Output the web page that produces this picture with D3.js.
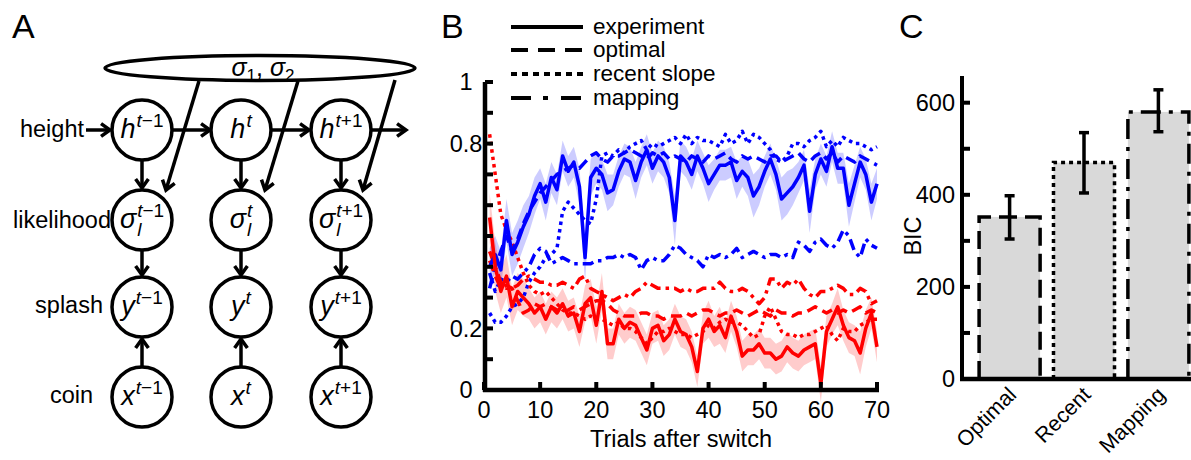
<!DOCTYPE html>
<html><head><meta charset="utf-8">
<script src="https://cdn.jsdelivr.net/npm/d3@7"></script>
<style>body{margin:0;background:#fff} svg{display:block} text{font-family:"Liberation Sans",Arial,sans-serif;fill:#000}</style>
</head><body><svg id="c" width="1191" height="460"></svg>
<script>
// ---------------- data ----------------
const trials = [1,2,3,4,5,6,7,8,9,10,11,12,13,14,15,16,17,18,19,20,21,22,23,24,25,26,27,28,29,30,31,32,33,34,35,36,37,38,39,40,41,42,43,44,45,46,47,48,49,50,51,52,53,54,55,56,57,58,59,60,61,62,63,64,65,66,67,68,69,70];
const expBlue = [0.40,0.44,0.39,0.55,0.44,0.48,0.53,0.57,0.63,0.67,
 0.61,0.69,0.65,0.76,0.71,0.74,0.66,0.43,0.69,0.72,
 0.70,0.64,0.65,0.71,0.75,0.74,0.68,0.74,0.78,0.72,
 0.76,0.74,0.69,0.55,0.76,0.74,0.70,0.76,0.72,0.67,
 0.70,0.73,0.73,0.74,0.68,0.71,0.69,0.63,0.66,0.71,
 0.75,0.70,0.62,0.64,0.66,0.69,0.73,0.58,0.70,0.75,
 0.71,0.79,0.72,0.72,0.60,0.67,0.74,0.70,0.61,0.67];
const errBlue = [0.06,0.06,0.06,0.07,0.07,0.07,0.07,0.06,0.06,0.05,
 0.06,0.05,0.05,0.05,0.05,0.05,0.06,0.08,0.06,0.05,
 0.05,0.06,0.05,0.05,0.05,0.05,0.06,0.05,0.05,0.05,
 0.05,0.05,0.05,0.08,0.05,0.05,0.05,0.05,0.05,0.06,
 0.05,0.05,0.05,0.05,0.06,0.05,0.06,0.07,0.06,0.05,
 0.05,0.05,0.07,0.07,0.06,0.05,0.05,0.07,0.05,0.05,
 0.05,0.05,0.05,0.05,0.07,0.06,0.05,0.05,0.06,0.05];
const expRed = [0.56,0.40,0.32,0.37,0.27,0.32,0.30,0.28,0.25,0.27,
 0.23,0.27,0.25,0.28,0.24,0.25,0.19,0.28,0.30,0.21,
 0.32,0.15,0.15,0.23,0.20,0.22,0.21,0.17,0.13,0.20,
 0.21,0.16,0.18,0.23,0.19,0.18,0.14,0.06,0.20,0.23,
 0.19,0.21,0.17,0.24,0.19,0.11,0.13,0.13,0.15,0.12,
 0.12,0.10,0.11,0.14,0.12,0.11,0.13,0.14,0.15,0.02,
 0.19,0.23,0.27,0.21,0.17,0.16,0.12,0.20,0.25,0.14];
const errRed = [0.08,0.08,0.07,0.07,0.06,0.06,0.06,0.05,0.05,0.05,
 0.05,0.05,0.05,0.05,0.05,0.05,0.05,0.06,0.06,0.06,
 0.06,0.05,0.05,0.05,0.05,0.05,0.05,0.05,0.05,0.05,
 0.05,0.05,0.05,0.05,0.05,0.05,0.05,0.05,0.05,0.06,
 0.05,0.06,0.05,0.05,0.05,0.05,0.05,0.05,0.05,0.05,
 0.05,0.05,0.05,0.05,0.05,0.05,0.05,0.05,0.05,0.06,
 0.05,0.05,0.06,0.05,0.05,0.05,0.07,0.06,0.05,0.05];
const optBlue = [0.33,0.40,0.45,0.50,0.45,0.49,0.54,0.58,0.61,0.64,
 0.66,0.68,0.70,0.71,0.72,0.73,0.72,0.74,0.76,0.77,
 0.75,0.74,0.76,0.76,0.77,0.78,0.77,0.76,0.75,0.77,
 0.76,0.77,0.75,0.76,0.75,0.74,0.76,0.75,0.74,0.76,
 0.75,0.76,0.77,0.75,0.74,0.76,0.75,0.76,0.75,0.74,
 0.76,0.76,0.74,0.75,0.76,0.77,0.75,0.74,0.76,0.77,
 0.75,0.77,0.74,0.76,0.75,0.74,0.76,0.75,0.74,0.73];
const recBlue = [0.25,0.22,0.22,0.24,0.27,0.28,0.30,0.35,0.38,0.40,
 0.43,0.44,0.46,0.58,0.61,0.59,0.57,0.55,0.54,0.62,
 0.76,0.77,0.76,0.78,0.77,0.79,0.80,0.81,0.78,0.80,
 0.79,0.80,0.81,0.82,0.80,0.83,0.80,0.82,0.81,0.81,
 0.80,0.79,0.83,0.80,0.81,0.84,0.80,0.83,0.82,0.80,
 0.78,0.75,0.74,0.76,0.80,0.80,0.79,0.81,0.82,0.84,
 0.79,0.81,0.79,0.82,0.81,0.80,0.80,0.79,0.78,0.79];
const mapBlue = [0.38,0.32,0.36,0.35,0.37,0.36,0.38,0.40,0.44,0.46,
 0.45,0.41,0.42,0.43,0.42,0.41,0.41,0.41,0.41,0.42,
 0.42,0.43,0.43,0.44,0.43,0.44,0.43,0.39,0.42,0.43,
 0.42,0.42,0.44,0.47,0.46,0.44,0.43,0.42,0.40,0.44,
 0.43,0.44,0.43,0.44,0.46,0.43,0.44,0.45,0.44,0.43,
 0.44,0.44,0.43,0.44,0.43,0.48,0.47,0.45,0.48,0.49,
 0.47,0.46,0.48,0.52,0.50,0.45,0.43,0.49,0.47,0.46];
const optRed = [0.42,0.37,0.33,0.34,0.33,0.29,0.25,0.26,0.28,0.27,
 0.28,0.27,0.26,0.25,0.26,0.27,0.26,0.27,0.28,0.29,
 0.29,0.28,0.26,0.25,0.24,0.24,0.24,0.25,0.25,0.24,
 0.24,0.23,0.24,0.24,0.24,0.25,0.24,0.25,0.26,0.26,
 0.25,0.24,0.25,0.25,0.26,0.25,0.24,0.25,0.26,0.25,
 0.24,0.26,0.25,0.25,0.24,0.25,0.25,0.26,0.27,0.26,
 0.25,0.26,0.25,0.26,0.25,0.26,0.27,0.25,0.26,0.25];
const recRed = [0.83,0.70,0.57,0.52,0.48,0.43,0.38,0.34,0.32,0.31,
 0.32,0.30,0.28,0.26,0.25,0.25,0.24,0.23,0.24,0.23,
 0.23,0.22,0.21,0.22,0.20,0.20,0.19,0.17,0.15,0.17,
 0.19,0.19,0.20,0.19,0.18,0.18,0.17,0.18,0.19,0.21,
 0.20,0.22,0.23,0.22,0.22,0.21,0.19,0.17,0.18,0.24,
 0.27,0.23,0.19,0.18,0.18,0.17,0.18,0.18,0.19,0.20,
 0.21,0.18,0.16,0.20,0.19,0.19,0.21,0.22,0.23,0.23];
const mapRed = [0.45,0.40,0.35,0.33,0.33,0.34,0.36,0.37,0.36,0.35,
 0.35,0.34,0.34,0.35,0.34,0.33,0.36,0.37,0.33,0.32,
 0.31,0.30,0.29,0.30,0.31,0.30,0.32,0.33,0.35,0.34,
 0.33,0.33,0.33,0.33,0.32,0.33,0.32,0.32,0.33,0.33,
 0.33,0.35,0.33,0.32,0.32,0.33,0.32,0.30,0.28,0.30,
 0.36,0.36,0.33,0.35,0.34,0.36,0.33,0.31,0.30,0.32,
 0.32,0.33,0.34,0.33,0.31,0.31,0.33,0.32,0.28,0.29];
const legendLabels = ["experiment","optimal","recent slope","mapping"];
const yTicksB = [0,0.1,0.2,0.3,0.4,0.5,0.6,0.7,0.8,0.9,1];
const yLabelsB = [0,0.2,0.8,1];
const xTicksB = [0,10,20,30,40,50,60,70];
const xTitleB = "Trials after switch";

const models = ["Optimal","Recent","Mapping"];
const bicMean = [352,470,580];
const bicLow = [304,404,537];
const bicHigh = [398,535,628];
const bicTicks = [0,100,200,300,400,500,600];
const bicLabels = [0,200,400,600];

const rowLabels = ["height","likelihood","splash","coin"];
const rowSymbols = ["h","σ","y","x"];
const timeSup = [["t","−1"],["t",""],["t","+1"]];

// ---------------- drawing ----------------
const svg = d3.select("#c");
const FS = 23.5;

function arrow(g,x1,y1,x2,y2,L=11){
  const a = Math.atan2(y2-y1,x2-x1), h=0.62;
  g.append("line").attr("x1",x1).attr("y1",y1).attr("x2",x2-2*Math.cos(a)).attr("y2",y2-2*Math.sin(a))
    .attr("stroke","#000").attr("stroke-width",3.5);
  const p1=[x2-L*Math.cos(a-h),y2-L*Math.sin(a-h)], p2=[x2-L*Math.cos(a+h),y2-L*Math.sin(a+h)];
  g.append("path").attr("d",`M${p1}L${x2},${y2}L${p2}`).attr("fill","none").attr("stroke","#000")
    .attr("stroke-width",3.5).attr("stroke-linejoin","miter");
}

// Panel labels
[["A",12,38],["B",441,38],["C",899,38]].forEach(([t,x,y])=>
  svg.append("text").attr("x",x).attr("y",y).attr("font-size",34).text(t));

// ---------- Panel A ----------
const gA = svg.append("g");
const colX = [142,241,341];
const rowY = [130,220,307,397];
const R = 30;
const mathFont = '"Liberation Serif","DejaVu Serif",serif';

function mathLabel(cx,cy,base,sup,sub){
  const g = gA.append("g");
  const size = 27, ssize = 19;
  const b = g.append("text").attr("x",0).attr("y",0).attr("font-family",mathFont).attr("font-style","italic")
    .attr("font-size",size).text(base);
  const wb = b.node().getComputedTextLength();
  let ws = 0, wsub = 0;
  if(sup){
    const s = g.append("text").attr("x",wb+1).attr("y",-11).attr("font-family",mathFont).attr("font-size",ssize);
    s.append("tspan").attr("font-style","italic").text(sup[0]);
    if(sup[1]) s.append("tspan").text(sup[1]);
    ws = s.node().getComputedTextLength()+1;
  }
  if(sub){
    const s = g.append("text").attr("x",wb+1).attr("y",8).attr("font-family",mathFont).attr("font-style","italic")
      .attr("font-size",ssize).text(sub);
    wsub = s.node().getComputedTextLength()+1;
  }
  const w = wb + Math.max(ws,wsub);
  g.attr("transform",`translate(${cx - w/2},${cy + 8})`);
}

// ellipse
gA.append("ellipse").attr("cx",260).attr("cy",68).attr("rx",155).attr("ry",12.5)
  .attr("fill","#fff").attr("stroke","#000").attr("stroke-width",3.5);
{
  const t = gA.append("text").attr("x",263).attr("y",76).attr("text-anchor","middle")
    .attr("font-family",mathFont).attr("font-size",25);
  t.append("tspan").attr("font-style","italic").text("σ");
  t.append("tspan").attr("font-size",17).attr("dy",5).text("1");
  t.append("tspan").attr("dy",-5).text(", ");
  t.append("tspan").attr("font-style","italic").text("σ");
  t.append("tspan").attr("font-size",17).attr("dy",5).text("2");
}

// arrows
arrow(gA,86,130,110,130);
arrow(gA,173,130,210,130);
arrow(gA,272,130,309,130);
arrow(gA,372,130,406,130);
colX.forEach(cx=>{
  arrow(gA,cx,161,cx,188);
  arrow(gA,cx,251,cx,275);
  arrow(gA,cx,366,cx,339);
});
[[199,81,166,190],[298,81,265,190],[395,80,363,190]].forEach(d=>arrow(gA,...d));

// circles
rowY.forEach((cy,ri)=>colX.forEach((cx,ci)=>{
  gA.append("circle").attr("cx",cx).attr("cy",cy).attr("r",R).attr("fill","#fff")
    .attr("stroke","#000").attr("stroke-width",3.5);
  mathLabel(cx,cy,rowSymbols[ri],timeSup[ci], ri===1 ? "l" : null);
}));
// row labels
[[84,137],[111,228],[103,313],[93,403]].forEach(([x,y],i)=>
  gA.append("text").attr("x",x).attr("y",y).attr("text-anchor","end").attr("font-size",FS).text(rowLabels[i]));

// ---------- Panel B ----------
const gB = svg.append("g");
const xB = d3.scaleLinear().domain([0,70]).range([484,877]);
const yB = d3.scaleLinear().domain([0,1]).range([390,82]);

const area = (m,e)=>d3.area().x((d,i)=>xB(trials[i])).y0((d,i)=>yB(m[i]-e[i])).y1((d,i)=>yB(m[i]+e[i]))(m);
gB.append("path").attr("d",area(expBlue,errBlue)).attr("fill","rgba(0,0,255,0.2)");
gB.append("path").attr("d",area(expRed,errRed)).attr("fill","rgba(255,0,0,0.2)");

const lineGen = d3.line().x((d,i)=>xB(trials[i])).y(d=>yB(d));
const dashes = [null,"11,6","3.5,4","11,5,3.5,5"];
const seriesB = [
  [mapBlue,"#0000ff",3],[mapRed,"#ff0000",3],
  [recBlue,"#0000ff",2],[recRed,"#ff0000",2],
  [optBlue,"#0000ff",1],[optRed,"#ff0000",1],
  [expBlue,"#0000ff",0],[expRed,"#ff0000",0]
];
seriesB.forEach(([vals,col,k])=>{
  gB.append("path").attr("d",lineGen(vals)).attr("fill","none").attr("stroke",col)
    .attr("stroke-width",3.5).attr("stroke-dasharray",dashes[k]).attr("stroke-linejoin","round");
});

// axes B
gB.append("line").attr("x1",485).attr("x2",485).attr("y1",yB(1)).attr("y2",yB(0)+2).attr("stroke","#000").attr("stroke-width",4.5);
gB.append("line").attr("x1",483).attr("x2",xB(70)+2).attr("y1",390).attr("y2",390).attr("stroke","#000").attr("stroke-width",4.5);
yTicksB.forEach(v=>gB.append("line").attr("x1",485).attr("x2",493).attr("y1",yB(v)).attr("y2",yB(v)).attr("stroke","#000").attr("stroke-width",4));
yLabelsB.forEach(v=>gB.append("text").attr("x",466).attr("y",yB(v)).attr("dy","0.36em").attr("text-anchor","middle").attr("font-size",FS).text(v));
xTicksB.forEach(v=>{
  gB.append("line").attr("x1",xB(v)).attr("x2",xB(v)).attr("y1",390).attr("y2",382).attr("stroke","#000").attr("stroke-width",4);
  gB.append("text").attr("x",xB(v)).attr("y",418).attr("text-anchor","middle").attr("font-size",FS).text(v);
});
gB.append("text").attr("x",681).attr("y",447).attr("text-anchor","middle").attr("font-size",FS).text(xTitleB);

// legend
const legDash = [null,"17,10","6,5","20,12,5,13"];
const legY = [27,50,74,98];
legendLabels.forEach((l,i)=>{
  gB.append("line").attr("x1",511).attr("x2",583).attr("y1",legY[i]).attr("y2",legY[i])
    .attr("stroke","#000").attr("stroke-width",4).attr("stroke-dasharray",legDash[i]);
  gB.append("text").attr("x",593).attr("y",legY[i]+7).attr("font-size",22.5).text(l);
});

// ---------- Panel C ----------
const gC = svg.append("g");
const yC = d3.scaleLinear().domain([0,658]).range([379,76]);
const xC = d3.scaleBand().domain(models).range([968.5,1199.5]).paddingInner(0.18).paddingOuter(0.1425);
const barDash = ["18,8","4,4","20,8,4,8"];
models.forEach((m,i)=>{
  const x0 = xC(m), w = xC.bandwidth(), yt = yC(bicMean[i]);
  gC.append("rect").attr("x",x0).attr("y",yt).attr("width",w).attr("height",yC(0)-yt).attr("fill","#d9d9d9");
  gC.append("path").attr("d",`M${x0},${yC(0)}L${x0},${yt}L${x0+w},${yt}L${x0+w},${yC(0)}`)
    .attr("fill","none").attr("stroke","#000").attr("stroke-width",3.5).attr("stroke-dasharray",barDash[i]);
  const cx = x0 + w/2;
  gC.append("line").attr("x1",cx).attr("x2",cx).attr("y1",yC(bicLow[i])).attr("y2",yC(bicHigh[i])).attr("stroke","#000").attr("stroke-width",3.5);
  [bicLow[i],bicHigh[i]].forEach(v=>gC.append("line").attr("x1",cx-5).attr("x2",cx+5).attr("y1",yC(v)).attr("y2",yC(v)).attr("stroke","#000").attr("stroke-width",3.5));
  gC.append("text").attr("transform",`translate(${cx+8},${396}) rotate(-45)`).attr("text-anchor","end")
    .attr("font-size",21.5).text(m);
});
gC.append("line").attr("x1",962).attr("x2",962).attr("y1",76).attr("y2",381).attr("stroke","#000").attr("stroke-width",4);
gC.append("line").attr("x1",960).attr("x2",1191).attr("y1",379).attr("y2",379).attr("stroke","#000").attr("stroke-width",4.5);
bicTicks.forEach(v=>gC.append("line").attr("x1",962).attr("x2",970).attr("y1",yC(v)).attr("y2",yC(v)).attr("stroke","#000").attr("stroke-width",4));
bicLabels.forEach(v=>gC.append("text").attr("x",955).attr("y",yC(v)).attr("dy","0.36em").attr("text-anchor","end").attr("font-size",FS).text(v));
gC.append("text").attr("transform","translate(921,236) rotate(-90)").attr("text-anchor","middle").attr("font-size",FS).text("BIC");
</script></body></html>
